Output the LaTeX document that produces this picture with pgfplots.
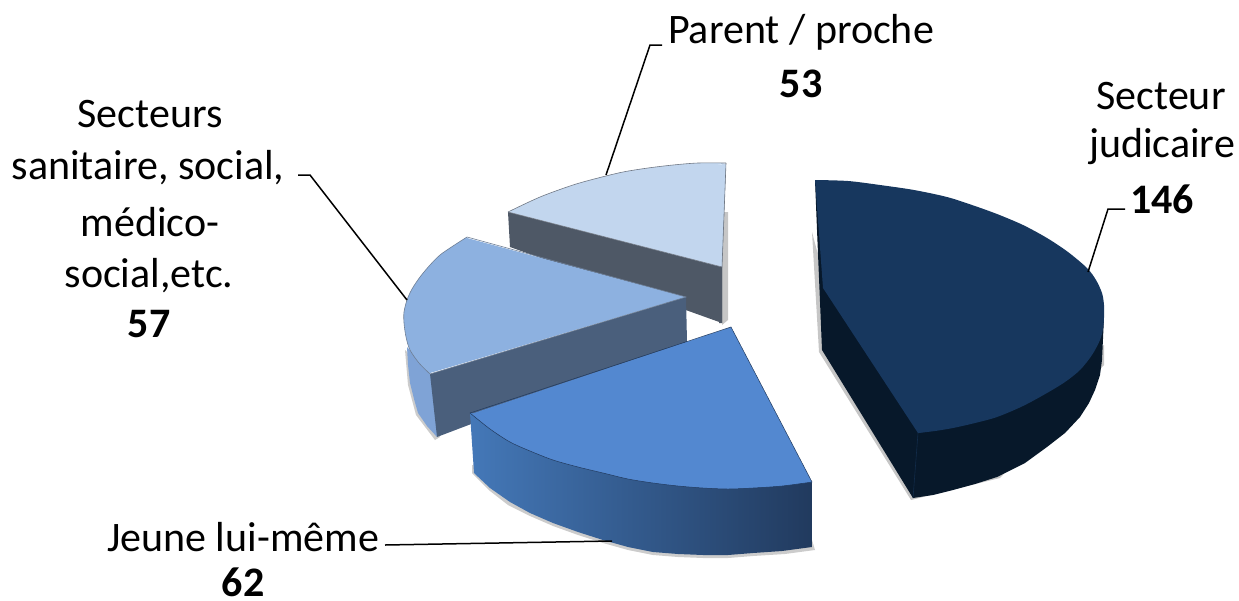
\documentclass[border=0pt]{standalone}
\usepackage{pgfplots}
\pgfplotsset{compat=1.18}
\usepackage{fontspec}
\setmainfont{Carlito}
\definecolor{dtop}{HTML}{17375E}
\definecolor{dside}{HTML}{07182A}
\definecolor{btop}{HTML}{5388D0}
\definecolor{bl}{HTML}{4478B8}
\definecolor{br}{HTML}{213A5E}
\definecolor{mtop}{HTML}{8DB1E0}
\definecolor{mside}{HTML}{4A5F7C}
\definecolor{mout}{HTML}{7FA3D6}
\definecolor{ltop}{HTML}{C2D6EE}
\definecolor{lside}{HTML}{4E5866}
\tikzset{lab/.style={font=\fontsize{42}{50}\selectfont, inner sep=0pt, align=center, text=black}}
\begin{document}
\begin{tikzpicture}
\useasboundingbox (0,0) rectangle (1239pt,600pt);
\begin{axis}[
  at={(0,0)}, anchor=south west,
  scale only axis, width=1239pt, height=600pt,
  xmin=0, xmax=1239, ymin=0, ymax=600, y dir=reverse,
  axis lines=none, clip=false,
]
% Parent / proche (53)
\addplot[fill=gray!45, draw=none, forget plot] coordinates {(722,212)(728,212)(728,320)(722,325)(722,212)};
\addplot[fill=lside, draw=none, forget plot] coordinates {(508,212)(510,247)(722,323)(722,267)(508,212)};
\addplot[fill=lside, draw=none, forget plot] coordinates {(726,163)(722,267)(722,323)(719,323)(722,200)(726,163)};
\addplot[fill=ltop, draw=none, forget plot] coordinates {(726,164)(648,169)(573,186)(509,212)(722,267)(726,164)};
\addplot[fill=ltop, draw=lside!80, line width=0.6pt, smooth, forget plot] coordinates {(726,163)(698,163)(673,165)(648,168)(623,172)(598,178)(573,185)(540,197)(508,212)};
\addplot[draw=lside!80, line width=0.6pt, forget plot] coordinates {(508,212)(722,267)(726,163)};
% Secteurs (57)
\addplot[fill=gray!40, draw=none, forget plot] coordinates {(405,350)(408,385)(416,415)(435,440)(440,437)(430,374)(405,350)};
\addplot[fill=mout, draw=none, forget plot] coordinates {(407,347)(408,365)(410,383)(414,399)(418,413)(427,426)(437,437)(437,380)(430,374)(410,350)(407,347)};
\addplot[fill=mside, draw=none, forget plot] coordinates {(430,374)(437,437)(687,342)(686,297)(430,374)};
\addplot[fill=mtop, draw=none, forget plot] coordinates {(467,238)(421,277)(405,318)(411,350)(430,373)(686,297)(467,238)};
\addplot[fill=mtop, draw=mside!80, line width=0.6pt, smooth, forget plot] coordinates {(467,237)(453,246)(440,255)(430,265)(420,277)(412,289)(407,300)(404,312)(404,323)(406,337)(410,350)(419,363)(430,374)};
\addplot[draw=mside!80, line width=0.6pt, forget plot] coordinates {(430,374)(686,297)(467,237)};
% Jeune lui-meme (62)
\addplot[fill=gray!40, draw=none, forget plot] coordinates {(472,473)(490,491)(508,505)(530,516)(553,526)(578,535)(603,543)(628,550)(653,555)(678,557)(703,558)(728,558)(753,556)(785,554)(815,550)(812,540)(472,465)(472,473)};
\addplot[left color=bl, right color=br, draw=none, forget plot] coordinates {(470,413)(474,473)(490,488)(510,502)(530,513)(553,523)(578,532)(603,540)(628,547)(653,552)(678,554)(703,555)(728,555)(753,553)(782,551)(812,547)(812,482)(470,413)};
\addplot[fill=btop, draw=none, forget plot] coordinates {(731,327)(812,482)(728,488)(628,478)(530,450)(471,414)(731,327)};
\addplot[fill=btop, draw=br, line width=0.5pt, smooth, forget plot] coordinates {(812,482)(782,486)(753,488)(728,489)(703,488)(678,486)(653,483)(628,479)(603,473)(578,467)(553,460)(530,451)(510,442)(490,429)(470,413)};
\addplot[draw=br, line width=0.5pt, forget plot] coordinates {(470,413)(731,327)(812,482)};
% Secteur judicaire (146)
\addplot[fill=gray!45, draw=none, forget plot] coordinates {(812,232)(819,352)(911,500)(1000,478)(1104,365)(1104,345)(1000,400)(830,300)(812,232)};
\addplot[fill=dside, draw=none, forget plot] coordinates {(815,180)(817,230)(822,350)(913,498)(933,495)(953,490)(975,484)(997,477)(1025,463)(1047,447)(1065,433)(1080,417)(1089,403)(1095,390)(1100,375)(1102,360)(1104,317)(900,300)(815,180)};
\addplot[fill=dtop, draw=none, forget plot] coordinates {(815,180)(947,198)(1068,253)(1103,317)(1065,381)(953,427)(918,433)(823,288)(815,180)};
\addplot[fill=dtop, draw=none, smooth, forget plot] coordinates {(815,180)(848,181)(880,185)(914,190)(947,197)(972,205)(997,214)(1023,225)(1047,238)(1068,252)(1087,268)(1096,280)(1102,293)(1104,305)(1104,317)(1103,329)(1100,340)(1092,355)(1080,370)(1065,382)(1047,393)(1023,406)(997,417)(975,423)(953,428)(935,431)(918,433)};
\addplot[dtop!60!dside, line width=0.6pt, forget plot] coordinates {(918,433)(913,498)};
% leader lines
\addplot[black, line width=1.5pt, forget plot] coordinates {(606,175)(650,45)(662,45)};
\addplot[black, line width=1.5pt, forget plot] coordinates {(407,300)(310,175)(298,175)};
\addplot[black, line width=1.5pt, forget plot] coordinates {(1088,272)(1108,209)(1125,209)};
\addplot[black, line width=1.5pt, forget plot] coordinates {(612,541)(385,545)};
% labels
\node[lab] at (axis cs:801,32) {Parent / proche};
\node[lab] at (axis cs:801,84) {\textbf{53}};
\node[lab] at (axis cs:1161,96) {Secteur};
\node[lab] at (axis cs:1162,147) {judicaire};
\node[lab] at (axis cs:1162,199) {\textbf{146}};
\node[lab] at (axis cs:150,114) {Secteurs};
\node[lab] at (axis cs:148,168) {sanitaire, social,};
\node[lab] at (axis cs:150,222) {médico-};
\node[lab] at (axis cs:149,276) {social,etc.};
\node[lab] at (axis cs:149,324) {\textbf{57}};
\node[lab] at (axis cs:243,537) {Jeune lui-même};
\node[lab] at (axis cs:243,582) {\textbf{62}};
\end{axis}
\end{tikzpicture}
\end{document}
